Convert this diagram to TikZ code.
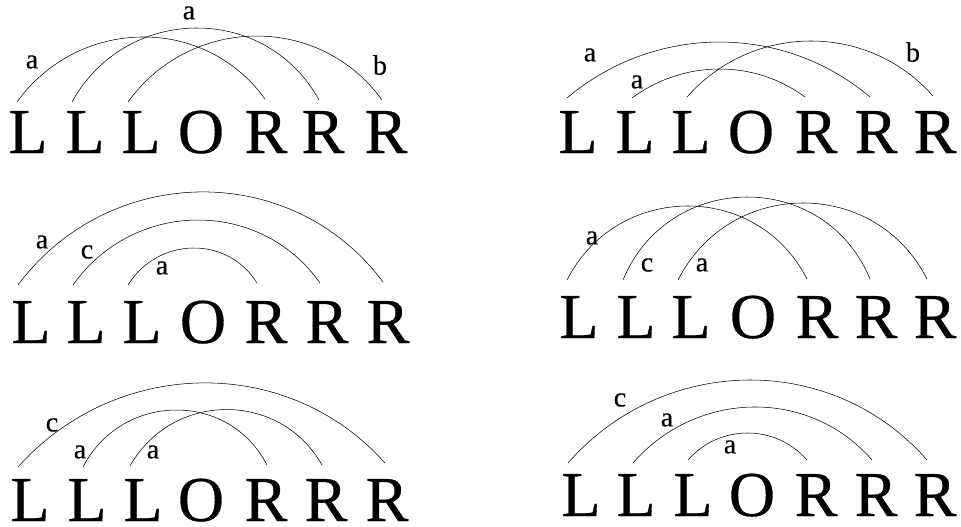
\documentclass[tikz,border=0pt]{standalone}
\usepackage{fontspec}
\setmainfont{Liberation Serif}
\newfontfamily\bigletters[FakeBold=0.5]{Liberation Serif}
\newfontfamily\smallletters[FakeBold=0.3]{Liberation Serif}
\tikzset{
  letter/.style={inner sep=0pt, anchor=base, font=\bigletters\fontsize{48}{50}\selectfont},
  lab/.style={inner sep=0pt, font=\smallletters\fontsize{21}{24}\selectfont},
  bow/.style n args={3}{line width=0.9pt, out=#1, in=#2, distance=#3pt},
}
\newcommand\letterrow[3]{%
  \foreach \ch/\xx [count=\i] in {#3} {\node[letter] (#1l\i) at (\xx,526-#2) {\ch};}}
\begin{document}
\begin{tikzpicture}[x=0.75pt,y=0.75pt]
\useasboundingbox (0,0) rectangle (961,526);
% ---------- letters ----------
\letterrow{p1}{153}{L/28,L/85,L/141,O/201,R/266,R/323,R/386}
\letterrow{p2}{153}{L/578,L/635,L/691,O/751,R/816,R/876,R/935}
\letterrow{p3}{343}{L/31,L/86,L/142,O/203,R/266,R/327,R/388}
\letterrow{p4}{338}{L/579,L/636,L/691,O/753,R/817,R/876,R/935}
\letterrow{p5}{521}{L/30,L/87,L/143,O/201,R/266,R/326,R/387}
\letterrow{p6}{516}{L/581,L/636,L/693,O/752,R/816,R/876,R/935}
% ---------- panel 1 ----------
\coordinate (p1As) at (17,424);  \coordinate (p1Ae) at (265,427);
\coordinate (p1Bs) at (72,424);  \coordinate (p1Be) at (319,426);
\coordinate (p1Cs) at (128,424); \coordinate (p1Ce) at (382,426);
\draw (p1As) to[bow={54.2}{125.8}{78.3}] (p1Ae);
\draw (p1Bs) to[bow={61.2}{118.8}{83.3}] (p1Be);
\draw (p1Cs) to[bow={54.2}{125.8}{80.1}] (p1Ce);
\node[lab] (p1t1) at (32,464) {a};
\node[lab] (p1t2) at (189,513) {a};
\node[lab] (p1t3) at (380,461) {b};
% ---------- panel 2 ----------
\coordinate (p2As) at (567,428); \coordinate (p2Ae) at (870,429);
\coordinate (p2Bs) at (632,428); \coordinate (p2Be) at (805,429);
\coordinate (p2Cs) at (687,429); \coordinate (p2Ce) at (933,430);
\draw (p2As) to[bow={40.2}{139.8}{85.9}] (p2Ae);
\draw (p2Bs) to[bow={36.5}{143.5}{47.9}] (p2Be);
\draw (p2Cs) to[bow={48.6}{131.4}{74.0}] (p2Ce);
\node[lab] (p2t1) at (590,471) {a};
\node[lab] (p2t2) at (637,444) {a};
\node[lab] (p2t3) at (913,474) {b};
% ---------- panel 3 ----------
\coordinate (p3As) at (18,241);  \coordinate (p3Ae) at (383,244);
\coordinate (p3Bs) at (73,241);  \coordinate (p3Be) at (320,243);
\coordinate (p3Cs) at (128,241); \coordinate (p3Ce) at (257,243);
\draw (p3As) to[bow={53.3}{126.7}{114.2}] (p3Ae);
\draw (p3Bs) to[bow={54.8}{125.2}{78.3}] (p3Be);
\draw (p3Cs) to[bow={58.3}{121.7}{42.3}] (p3Ce);
\node[lab] (p3t1) at (42,284) {a};
\node[lab] (p3t2) at (87,274) {c};
\node[lab] (p3t3) at (162,258) {a};
% ---------- panel 4 ----------
\coordinate (p4As) at (567,246); \coordinate (p4Ae) at (807,247);
\coordinate (p4Bs) at (623,246); \coordinate (p4Be) at (870,247);
\coordinate (p4Cs) at (678,246); \coordinate (p4Ce) at (927,247);
\draw (p4As) to[bow={63.0}{117.0}{82.5}] (p4Ae);
\draw (p4Bs) to[bow={67.5}{112.5}{89.3}] (p4Be);
\draw (p4Cs) to[bow={63.1}{116.9}{85.8}] (p4Ce);
\node[lab] (p4t1) at (592,288) {a};
\node[lab] (p4t2) at (647,261) {c};
\node[lab] (p4t3) at (702,261) {a};
% ---------- panel 5 ----------
\coordinate (p5As) at (18,59);   \coordinate (p5Ae) at (385,63);
\coordinate (p5Bs) at (83,59);   \coordinate (p5Be) at (267,61);
\coordinate (p5Cs) at (130,60);  \coordinate (p5Ce) at (322,61);
\draw (p5As) to[bow={48.2}{131.8}{110.1}] (p5Ae);
\draw (p5Bs) to[bow={62.7}{117.3}{63.0}] (p5Be);
\draw (p5Cs) to[bow={60.5}{119.5}{64.3}] (p5Ce);
\node[lab] (p5t1) at (52,101) {c};
\node[lab] (p5t2) at (80,74) {a};
\node[lab] (p5t3) at (153,74) {a};
% ---------- panel 6 ----------
\coordinate (p6As) at (568,63);  \coordinate (p6Ae) at (927,66);
\coordinate (p6Bs) at (633,63);  \coordinate (p6Be) at (872,66);
\coordinate (p6Cs) at (688,66);  \coordinate (p6Ce) at (807,66);
\draw (p6As) to[bow={48.8}{131.2}{108.3}] (p6Ae);
\draw (p6Bs) to[bow={49.0}{131.0}{72.2}] (p6Be);
\draw (p6Cs) to[bow={48.8}{131.2}{35.9}] (p6Ce);
\node[lab] (p6t1) at (620,126) {c};
\node[lab] (p6t2) at (667,106) {a};
\node[lab] (p6t3) at (730,79) {a};
\end{tikzpicture}
\end{document}
